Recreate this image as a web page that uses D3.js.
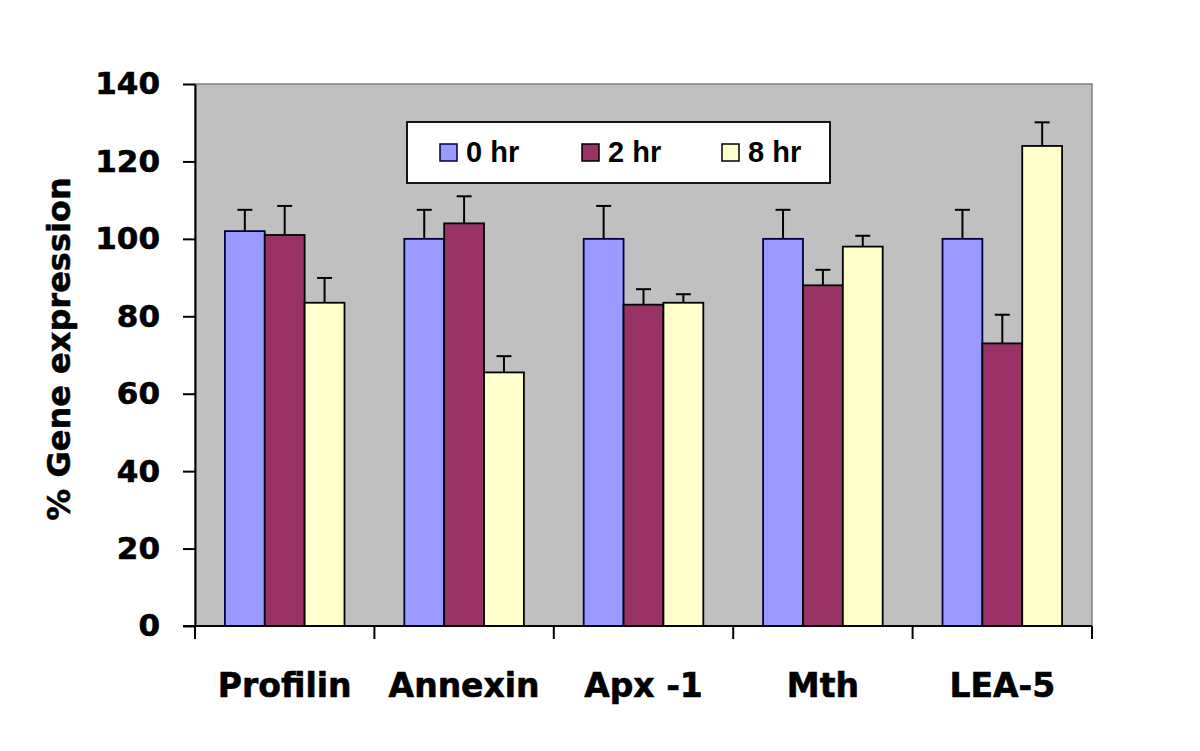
<!DOCTYPE html>
<html>
<head>
<meta charset="utf-8">
<script src="https://cdn.jsdelivr.net/npm/d3@7"></script>
<style>
  html, body { margin: 0; padding: 0; background: #ffffff; }
  svg { display: block; }
</style>
</head>
<body>
<svg id="chart" width="1200" height="751"></svg>
<script>
// ---- Data ----
const categories = ["Profilin", "Annexin", "Apx -1", "Mth", "LEA-5"];
const seriesNames = ["0 hr", "2 hr", "8 hr"];
const values0hr = [102, 100, 100, 100, 100];
const errors0hr = [5.5, 7.5, 8.5, 7.5, 7.5];
const values2hr = [101, 104, 83, 88, 73];
const errors2hr = [7.5, 7, 4, 4, 7.4];
const values8hr = [83.5, 65.5, 83.5, 98, 124];
const errors8hr = [6.4, 4.2, 2.2, 2.8, 6.1];
const yTicks = [0, 20, 40, 60, 80, 100, 120, 140];
const yTitle = "% Gene expression";

const seriesValues = [values0hr, values2hr, values8hr];
const seriesErrors = [errors0hr, errors2hr, errors8hr];
const fills = ["#9999FF", "#993366", "#FFFFCC"];
const strokes = ["#000040", "#000000", "#000000"];

const svg = d3.select("#chart");
const pL = 195, pR = 1092, pT = 84, pB = 626;

const y = d3.scaleLinear().domain([0, 140]).range([pB, pT]);
const x0 = d3.scaleBand().domain(categories).range([pL, pR]).paddingInner(0).paddingOuter(0);
const barW = x0.bandwidth() / 4.5;
const x1 = d3.scaleBand().domain(seriesNames).range([0.75 * barW, 3.75 * barW]).padding(0);

// plot background
svg.append("rect")
  .attr("x", pL).attr("y", pT)
  .attr("width", pR - pL).attr("height", pB - pT)
  .attr("fill", "#C0C0C0")
  .attr("stroke", "#808080").attr("stroke-width", 1.5);

// bars
const rows = categories.map((c, i) => seriesNames.map((s, j) => ({
  cat: c, s: s, j: j, v: seriesValues[j][i], e: seriesErrors[j][i]
}))).flat();

const g = svg.append("g");
g.selectAll("rect.bar").data(rows).enter().append("rect")
  .attr("class", "bar")
  .attr("x", d => x0(d.cat) + x1(d.s))
  .attr("y", d => y(d.v))
  .attr("width", x1.bandwidth())
  .attr("height", d => y(0) - y(d.v))
  .attr("fill", d => fills[d.j])
  .attr("stroke", d => strokes[d.j])
  .attr("stroke-width", 1.8);

// error bars
const cap = 7.5;
g.selectAll("line.err").data(rows).enter().append("line")
  .attr("class", "err")
  .attr("x1", d => x0(d.cat) + x1(d.s) + x1.bandwidth() / 2)
  .attr("x2", d => x0(d.cat) + x1(d.s) + x1.bandwidth() / 2)
  .attr("y1", d => y(d.v))
  .attr("y2", d => y(d.v + d.e))
  .attr("stroke", "#000").attr("stroke-width", 2);
g.selectAll("line.cap").data(rows).enter().append("line")
  .attr("class", "cap")
  .attr("x1", d => x0(d.cat) + x1(d.s) + x1.bandwidth() / 2 - cap)
  .attr("x2", d => x0(d.cat) + x1(d.s) + x1.bandwidth() / 2 + cap)
  .attr("y1", d => y(d.v + d.e))
  .attr("y2", d => y(d.v + d.e))
  .attr("stroke", "#000").attr("stroke-width", 2);

// y axis
const yAxis = svg.append("g")
  .attr("transform", `translate(${pL},0)`)
  .call(d3.axisLeft(y).tickValues(yTicks).tickSize(12).tickPadding(23).tickSizeOuter(0));
yAxis.select(".domain").attr("stroke", "#000").attr("stroke-width", 2);
yAxis.selectAll(".tick line").attr("stroke", "#000").attr("stroke-width", 2);
yAxis.selectAll(".tick text")
  .attr("font-family", "DejaVu Sans").attr("font-weight", "bold")
  .attr("font-size", 31).attr("fill", "#000")
  .attr("stroke", "#000").attr("stroke-width", 0.6);

// x axis line and ticks at category boundaries
const boundaries = categories.map(c => x0(c)).concat([pR]);
svg.append("line")
  .attr("x1", pL - 12).attr("x2", pR)
  .attr("y1", pB).attr("y2", pB)
  .attr("stroke", "#000").attr("stroke-width", 2);
svg.selectAll("line.xtick").data(boundaries).enter().append("line")
  .attr("class", "xtick")
  .attr("x1", d => d).attr("x2", d => d)
  .attr("y1", pB).attr("y2", pB + 13)
  .attr("stroke", "#000").attr("stroke-width", 2);

// category labels
svg.selectAll("text.cat").data(categories).enter().append("text")
  .attr("class", "cat")
  .attr("x", d => x0(d) + x0.bandwidth() / 2)
  .attr("y", 697)
  .attr("text-anchor", "middle")
  .attr("font-family", "DejaVu Sans").attr("font-weight", "bold")
  .attr("font-size", 33).attr("fill", "#000")
  .attr("stroke", "#000").attr("stroke-width", 0.6)
  .text(d => d);

// y title
svg.append("text")
  .attr("transform", `translate(70, 349) rotate(-90)`)
  .attr("text-anchor", "middle")
  .attr("font-family", "DejaVu Sans").attr("font-weight", "bold")
  .attr("font-size", 32).attr("fill", "#000")
  .attr("stroke", "#000").attr("stroke-width", 0.5)
  .text(yTitle);

// legend
const legend = svg.append("g");
legend.append("rect")
  .attr("x", 407).attr("y", 122).attr("width", 423).attr("height", 61)
  .attr("fill", "#fff").attr("stroke", "#000").attr("stroke-width", 1.8);
const legX = [440, 582, 722];
seriesNames.forEach((s, j) => {
  legend.append("rect")
    .attr("x", legX[j]).attr("y", 144).attr("width", 17).attr("height", 17)
    .attr("fill", fills[j]).attr("stroke", strokes[j]).attr("stroke-width", 1.5);
  legend.append("text")
    .attr("x", legX[j] + 26).attr("y", 162)
    .attr("font-family", "Liberation Sans").attr("font-weight", "bold")
    .attr("font-size", 29).attr("fill", "#000")
    .text(s);
});
</script>
</body>
</html>
